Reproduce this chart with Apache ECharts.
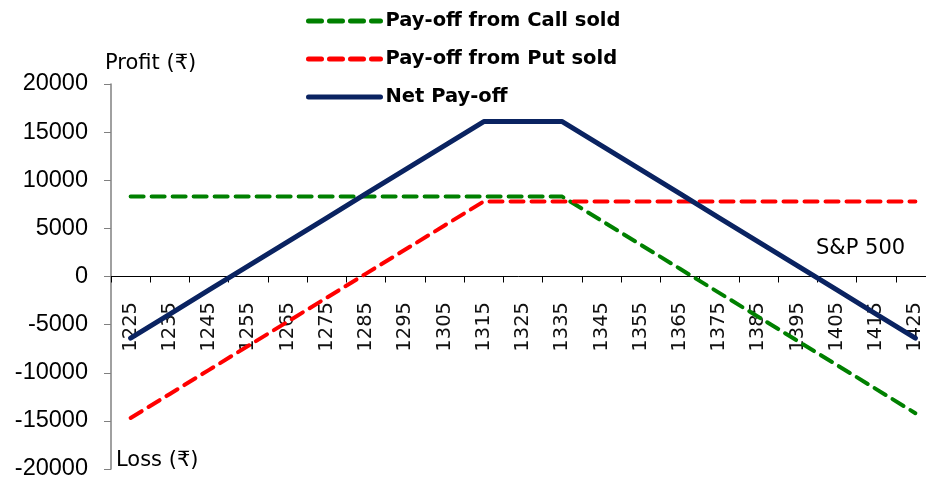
<!DOCTYPE html>
<html>
<head>
<meta charset="utf-8">
<script src="https://cdn.jsdelivr.net/npm/echarts@6/dist/echarts.min.js"></script>
<style>
  html, body { margin: 0; padding: 0; background: #fff; }
  #main { width: 926px; height: 479px; }
</style>
</head>
<body>
<div id="main"></div>
<script>
// S&P 500 index levels on expiry
var levels = ['1225', '1235', '1245', '1255', '1265', '1275', '1285', '1295', '1305', '1315', '1325',
  '1335', '1345', '1355', '1365', '1375', '1385', '1395', '1405', '1415', '1425'];

var callSold = [8300, 8300, 8300, 8300, 8300, 8300, 8300, 8300, 8300, 8300, 8300,
  8300, 5800, 3300, 800, -1700, -4200, -6700, -9200, -11700, -14200];

var putSold = [-14700, -12200, -9700, -7200, -4700, -2200, 300, 2800, 5300, 7800, 7800,
  7800, 7800, 7800, 7800, 7800, 7800, 7800, 7800, 7800, 7800];

var netPayoff = [-6400, -3900, -1400, 1100, 3600, 6100, 8600, 11100, 13600, 16100, 16100,
  16100, 13600, 11100, 8600, 6100, 3600, 1100, -1400, -3900, -6400];

var seriesNames = ['Pay-off from Call sold', 'Pay-off from Put sold', 'Net Pay-off'];

var labelFont = '"DejaVu Sans", Verdana, "Noto Sans", sans-serif';
var noteFont = '21px "DejaVu Sans", "Noto Sans", sans-serif';
var bigBounds = { left: -200, top: -200, right: -200, bottom: -200 };

var myChart = echarts.init(document.getElementById('main'));
myChart.setOption({
  animation: false,
  legend: {
    orient: 'vertical',
    left: 301,
    top: 6,
    itemWidth: 72,
    itemHeight: 14,
    itemGap: 18,
    data: seriesNames,
    itemStyle: { opacity: 0 },
    lineStyle: { width: 5, cap: 'round' },
    textStyle: {
      fontFamily: labelFont,
      fontWeight: 'bold',
      fontSize: 19.5,
      lineHeight: 20,
      color: '#000'
    }
  },
  grid: [
    // plot area
    { left: 111, top: 84, bottom: 10, width: 824, containLabel: false, outerBounds: bigBounds },
    // thin strip on the zero line, only carries the level labels
    { left: 111, top: 276, height: 1, width: 824, containLabel: false, outerBounds: bigBounds }
  ],
  xAxis: [
    {
      type: 'category',
      gridIndex: 0,
      data: levels,
      boundaryGap: true,
      axisLine: { onZero: true, lineStyle: { color: '#000', width: 1 } },
      axisTick: { show: true, length: 6, lineStyle: { color: '#000' } },
      axisLabel: { show: false },
      splitLine: { show: false }
    },
    {
      type: 'category',
      gridIndex: 1,
      data: levels,
      boundaryGap: true,
      position: 'bottom',
      axisLine: { show: false, onZero: false },
      axisTick: { show: false },
      axisLabel: {
        show: true,
        rotate: 90,
        margin: 25,
        interval: 0,
        fontFamily: labelFont,
        fontSize: 19.5,
        color: '#111'
      },
      splitLine: { show: false }
    }
  ],
  yAxis: [
    {
      type: 'value',
      gridIndex: 0,
      min: -20000,
      max: 20000,
      interval: 5000,
      axisLine: { show: true, lineStyle: { color: '#808080', width: 1.5 } },
      axisTick: { show: true, length: 7, lineStyle: { color: '#808080' } },
      axisLabel: {
        margin: 23,
        formatter: function (v) { return String(v); },
        fontFamily: '"Liberation Sans", Arial, sans-serif',
        fontSize: 23.5,
        color: '#000'
      },
      splitLine: { show: false }
    },
    {
      type: 'value',
      gridIndex: 1,
      show: false
    }
  ],
  graphic: [
    {
      type: 'text', left: 105, top: 53,
      style: { text: 'Profit (₹)', font: noteFont, fill: '#000' }
    },
    {
      type: 'text', left: 116, top: 450,
      style: { text: 'Loss (₹)', font: noteFont, fill: '#000' }
    },
    {
      type: 'text', left: 816, top: 238,
      style: { text: 'S&P 500', font: noteFont, fill: '#000' }
    }
  ],
  series: [
    {
      name: seriesNames[0],
      type: 'line',
      data: callSold,
      symbol: 'none',
      z: 3,
      itemStyle: { color: '#008000' },
      lineStyle: { color: '#008000', width: 4, type: [13, 8], cap: 'round' }
    },
    {
      name: seriesNames[1],
      type: 'line',
      data: putSold,
      symbol: 'none',
      z: 3,
      itemStyle: { color: '#ff0000' },
      lineStyle: { color: '#ff0000', width: 4, type: [13, 8], cap: 'round' }
    },
    {
      name: seriesNames[2],
      type: 'line',
      data: netPayoff,
      symbol: 'none',
      z: 3,
      itemStyle: { color: '#0a2361' },
      lineStyle: { color: '#0a2361', width: 5, cap: 'round' }
    }
  ]
});
</script>
</body>
</html>
